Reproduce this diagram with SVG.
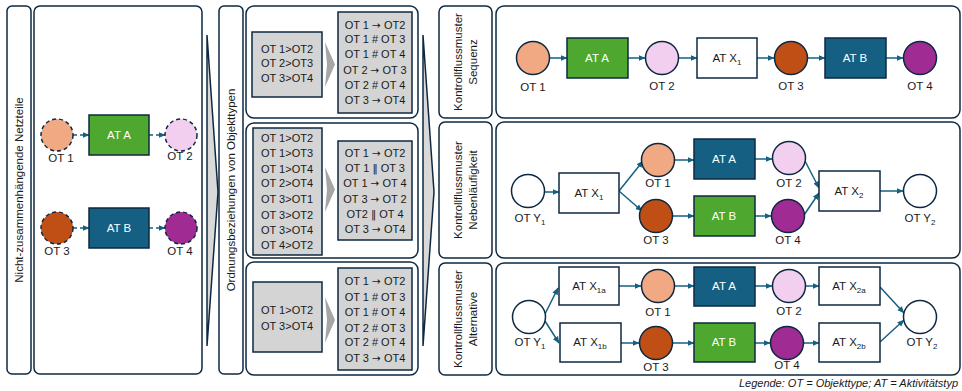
<svg xmlns="http://www.w3.org/2000/svg" width="962" height="391" viewBox="0 0 962 391">
<defs>
<marker id="ah" markerUnits="userSpaceOnUse" markerWidth="7" markerHeight="7" refX="6.5" refY="3.5" orient="auto"><path d="M0,0.5 L7,3.5 L0,6.5 z" fill="#156082"/></marker>
<style>
text{font-family:"Liberation Sans",Arial,sans-serif;font-size:11.5px;fill:#1a1a1a;text-anchor:middle}
.w{fill:#ffffff}
.sm{font-size:11px}
.ar{font-family:"DejaVu Sans",sans-serif;font-size:10.5px}
.panel{fill:#ffffff;stroke:#0e2841;stroke-width:1.5}
.gbox{fill:#d4d4d4;stroke:#0e2841;stroke-width:1.5}
.chev{fill:#a6a6a6}
.big{fill:#d9d9d9;stroke:#0e2841;stroke-width:1.5}
.c{stroke:#0e2841;stroke-width:1.5}
.d{stroke:#0e2841;stroke-width:1.5;stroke-dasharray:4 3}
.r{stroke:#0e2841;stroke-width:1.5}
.o1{fill:#f1a983}.o2{fill:#f2cfee}.o3{fill:#c04f15}.o4{fill:#a02b93}.oy{fill:#ffffff}
.ga{fill:#4ea72e}.bl{fill:#156082}.wh{fill:#ffffff}
.a{stroke:#156082;stroke-width:1.5;fill:none;marker-end:url(#ah)}
.ad{stroke:#156082;stroke-width:1.5;fill:none;stroke-dasharray:4 3;marker-end:url(#ah)}
.sub{font-size:8px}
.leg{font-style:italic;text-anchor:end;font-size:11px}
</style>
</defs>

<!-- frames -->
<g id="frames">
<rect class="panel" x="7" y="6" width="24" height="368" rx="5"/>
<rect class="panel" x="34" y="6" width="168" height="368" rx="6"/>
<polygon class="big" points="207,35 218,192 207,346"/>
<rect class="panel" x="219" y="6" width="24" height="368" rx="5"/>
<rect class="panel" x="246" y="6" width="172" height="112" rx="8"/>
<rect class="panel" x="246" y="123" width="172" height="135" rx="8"/>
<rect class="panel" x="246" y="262" width="172" height="113" rx="8"/>
<polygon class="big" points="423,35 434,192 423,346"/>
<rect class="panel" x="439" y="6" width="53" height="112" rx="6"/>
<rect class="panel" x="496" y="6" width="464" height="112" rx="8"/>
<rect class="panel" x="439" y="122" width="53" height="136" rx="6"/>
<rect class="panel" x="496" y="122" width="464" height="136" rx="8"/>
<rect class="panel" x="439" y="263" width="53" height="112" rx="6"/>
<rect class="panel" x="496" y="263" width="464" height="112" rx="8"/>
<text transform="translate(23,190) rotate(-90)">Nicht-zusammenhängende Netzteile</text>
<text transform="translate(235,190) rotate(-90)">Ordnungsbeziehungen von Objekttypen</text>
<text transform="translate(462,62) rotate(-90)">Kontrollflussmuster</text>
<text transform="translate(477,62) rotate(-90)">Sequenz</text>
<text transform="translate(462,190) rotate(-90)">Kontrollflussmuster</text>
<text transform="translate(477,190) rotate(-90)">Nebenläufigkeit</text>
<text transform="translate(462,319) rotate(-90)">Kontrollflussmuster</text>
<text transform="translate(477,319) rotate(-90)">Alternative</text>
</g>

<!-- connectors -->
<g id="connectors">
<line class="ad" x1="73" y1="135" x2="89" y2="135"/>
<line class="ad" x1="149" y1="135" x2="165" y2="135"/>
<line class="ad" x1="73" y1="228" x2="89" y2="228"/>
<line class="ad" x1="149" y1="228" x2="165" y2="228"/>

<line class="a" x1="550" y1="58" x2="567" y2="58"/>
<line class="a" x1="628" y1="58" x2="645" y2="58"/>
<line class="a" x1="679" y1="58" x2="697" y2="58"/>
<line class="a" x1="757" y1="58" x2="774" y2="58"/>
<line class="a" x1="808" y1="58" x2="825" y2="58"/>
<line class="a" x1="886" y1="58" x2="903" y2="58"/>

<line class="a" x1="545" y1="192" x2="559" y2="192"/>
<line class="a" x1="619" y1="191" x2="643" y2="161"/>
<line class="a" x1="619" y1="191" x2="642" y2="211"/>
<line class="a" x1="675" y1="160" x2="694" y2="160"/>
<line class="a" x1="673" y1="216" x2="694" y2="216"/>
<line class="a" x1="755" y1="159" x2="772" y2="159"/>
<line class="a" x1="755" y1="216" x2="771" y2="216"/>
<line class="a" x1="805" y1="161" x2="819" y2="188"/>
<line class="a" x1="804" y1="215" x2="819" y2="193"/>
<line class="a" x1="880" y1="191" x2="903" y2="191"/>

<line class="a" x1="545" y1="314" x2="558" y2="288"/>
<line class="a" x1="545" y1="321" x2="559" y2="343"/>
<line class="a" x1="619" y1="286" x2="641" y2="286"/>
<line class="a" x1="621" y1="343" x2="639" y2="343"/>
<line class="a" x1="675" y1="286" x2="694" y2="286"/>
<line class="a" x1="673" y1="343" x2="694" y2="343"/>
<line class="a" x1="755" y1="286" x2="772" y2="286"/>
<line class="a" x1="755" y1="343" x2="770" y2="343"/>
<line class="a" x1="806" y1="286" x2="819" y2="286"/>
<line class="a" x1="804" y1="343" x2="819" y2="343"/>
<line class="a" x1="880" y1="287" x2="904" y2="313"/>
<line class="a" x1="880" y1="342" x2="904" y2="320"/>
</g>

<!-- left panel nodes -->
<g id="L-OT1"><circle class="d o1" cx="57" cy="135" r="16"/><text x="61" y="162">OT 1</text></g>
<g id="L-ATA"><rect class="r ga" x="89" y="115" width="60" height="40"/><text class="w" x="119" y="139">AT A</text></g>
<g id="L-OT2"><circle class="d o2" cx="181" cy="135" r="16"/><text x="180" y="160">OT 2</text></g>
<g id="L-OT3"><circle class="d o3" cx="57" cy="228" r="16"/><text x="57" y="255">OT 3</text></g>
<g id="L-ATB"><rect class="r bl" x="89" y="208" width="60" height="40"/><text class="w" x="119" y="232">AT B</text></g>
<g id="L-OT4"><circle class="d o4" cx="181" cy="228" r="16"/><text x="180" y="255">OT 4</text></g>

<!-- middle: order relations -->
<g id="M1-in"><rect class="gbox" x="252" y="32" width="70" height="65"/>
<text class="sm" x="287" y="53">OT 1&gt;OT2</text><text class="sm" x="287" y="67">OT 2&gt;OT3</text><text class="sm" x="287" y="82">OT 3&gt;OT4</text></g>
<g id="M1-chev"><polygon class="chev" points="325,42 335,64.5 325,87 327,64.5"/></g>
<g id="M1-out"><rect class="gbox" x="338" y="12" width="74" height="101"/>
<text class="sm" x="375" y="29">OT 1 <tspan class="ar">→</tspan> OT2</text><text class="sm" x="375" y="43">OT 1 # OT 3</text><text class="sm" x="375" y="58">OT 1 # OT 4</text><text class="sm" x="375" y="74">OT 2 <tspan class="ar">→</tspan> OT 3</text><text class="sm" x="375" y="89">OT 2 # OT 4</text><text class="sm" x="375" y="104">OT 3 <tspan class="ar">→</tspan> OT4</text></g>

<g id="M2-in"><rect class="gbox" x="253" y="128" width="69" height="127"/>
<text class="sm" x="287" y="142">OT 1&gt;OT2</text><text class="sm" x="287" y="157">OT 1&gt;OT3</text><text class="sm" x="287" y="173">OT 1&gt;OT4</text><text class="sm" x="287" y="187">OT 2&gt;OT4</text><text class="sm" x="287" y="203">OT 3&gt;OT1</text><text class="sm" x="287" y="219">OT 3&gt;OT2</text><text class="sm" x="287" y="234">OT 3&gt;OT4</text><text class="sm" x="287" y="249">OT 4&gt;OT2</text></g>
<g id="M2-chev"><polygon class="chev" points="325,167 335,189.5 325,212 327,189.5"/></g>
<g id="M2-out"><rect class="gbox" x="338" y="141" width="74" height="99"/>
<text class="sm" x="375" y="157">OT 1 <tspan class="ar">→</tspan> OT2</text><text class="sm" x="375" y="172">OT 1 <tspan class="ar">‖</tspan> OT 3</text><text class="sm" x="375" y="187">OT 1 <tspan class="ar">→</tspan> OT 4</text><text class="sm" x="375" y="203">OT 3 <tspan class="ar">→</tspan> OT 2</text><text class="sm" x="375" y="218">OT2 <tspan class="ar">‖</tspan> OT 4</text><text class="sm" x="375" y="233">OT 3 <tspan class="ar">→</tspan> OT4</text></g>

<g id="M3-in"><rect class="gbox" x="253" y="282" width="69" height="70"/>
<text class="sm" x="287" y="314">OT 1&gt;OT2</text><text class="sm" x="287" y="330">OT 3&gt;OT4</text></g>
<g id="M3-chev"><polygon class="chev" points="325,297 335,320 325,343 327,320"/></g>
<g id="M3-out"><rect class="gbox" x="338" y="268" width="74" height="102"/>
<text class="sm" x="375" y="285">OT 1 <tspan class="ar">→</tspan> OT2</text><text class="sm" x="375" y="301">OT 1 # OT 3</text><text class="sm" x="375" y="316">OT 1 # OT 4</text><text class="sm" x="375" y="332">OT 2 # OT 3</text><text class="sm" x="375" y="346">OT 2 # OT 4</text><text class="sm" x="375" y="362">OT 3 <tspan class="ar">→</tspan> OT4</text></g>

<!-- right: sequence -->
<g id="S-OT1"><circle class="c o1" cx="533" cy="58" r="16.5"/><text x="533" y="91">OT 1</text></g>
<g id="S-ATA"><rect class="r ga" x="567" y="38" width="61" height="40"/><text class="w" x="597" y="62">AT A</text></g>
<g id="S-OT2"><circle class="c o2" cx="662" cy="58" r="16.5"/><text x="662" y="90">OT 2</text></g>
<g id="S-ATX1"><rect class="r wh" x="697" y="38" width="60" height="40"/><text x="727" y="62">AT X<tspan class="sub" dy="3">1</tspan></text></g>
<g id="S-OT3"><circle class="c o3" cx="791" cy="58" r="16.5"/><text x="791" y="90">OT 3</text></g>
<g id="S-ATB"><rect class="r bl" x="825" y="38" width="61" height="40"/><text class="w" x="855" y="62">AT B</text></g>
<g id="S-OT4"><circle class="c o4" cx="920" cy="58" r="16.5"/><text x="920" y="90">OT 4</text></g>

<!-- right: concurrency -->
<g id="N-OTY1"><circle class="c oy" cx="528" cy="191" r="16.5"/><text x="530" y="222">OT Y<tspan class="sub" dy="3">1</tspan></text></g>
<g id="N-ATX1"><rect class="r wh" x="559" y="173" width="60" height="40"/><text x="589" y="197">AT X<tspan class="sub" dy="3">1</tspan></text></g>
<g id="N-OT1"><circle class="c o1" cx="658" cy="160" r="16.5"/><text x="658" y="187">OT 1</text></g>
<g id="N-OT3"><circle class="c o3" cx="656" cy="216" r="16.5"/><text x="656" y="244">OT 3</text></g>
<g id="N-ATA"><rect class="r bl" x="694" y="139" width="61" height="40"/><text class="w" x="724" y="163">AT A</text></g>
<g id="N-ATB"><rect class="r ga" x="694" y="196" width="61" height="40"/><text class="w" x="724" y="220">AT B</text></g>
<g id="N-OT2"><circle class="c o2" cx="789" cy="158" r="16.5"/><text x="789" y="187">OT 2</text></g>
<g id="N-OT4"><circle class="c o4" cx="788" cy="216" r="16.5"/><text x="788" y="244">OT 4</text></g>
<g id="N-ATX2"><rect class="r wh" x="819" y="171" width="61" height="40"/><text x="849" y="195">AT X<tspan class="sub" dy="3">2</tspan></text></g>
<g id="N-OTY2"><circle class="c oy" cx="920" cy="191" r="16.5"/><text x="920" y="222">OT Y<tspan class="sub" dy="3">2</tspan></text></g>

<!-- right: alternative -->
<g id="A-OTY1"><circle class="c oy" cx="529" cy="317" r="16.5"/><text x="530" y="346">OT Y<tspan class="sub" dy="3">1</tspan></text></g>
<g id="A-ATX1a"><rect class="r wh" x="559" y="267" width="60" height="38"/><text x="589" y="290">AT X<tspan class="sub" dy="3">1a</tspan></text></g>
<g id="A-ATX1b"><rect class="r wh" x="560" y="323" width="61" height="39"/><text x="590" y="346">AT X<tspan class="sub" dy="3">1b</tspan></text></g>
<g id="A-OT1"><circle class="c o1" cx="658" cy="286" r="16.5"/><text x="658" y="316">OT 1</text></g>
<g id="A-OT3"><circle class="c o3" cx="656" cy="343" r="16.5"/><text x="656" y="371">OT 3</text></g>
<g id="A-ATA"><rect class="r bl" x="694" y="267" width="61" height="39"/><text class="w" x="724" y="290">AT A</text></g>
<g id="A-ATB"><rect class="r ga" x="694" y="323" width="61" height="39"/><text class="w" x="724" y="346">AT B</text></g>
<g id="A-OT2"><circle class="c o2" cx="789" cy="286" r="16.5"/><text x="789" y="315">OT 2</text></g>
<g id="A-OT4"><circle class="c o4" cx="787" cy="343" r="16.5"/><text x="787" y="369">OT 4</text></g>
<g id="A-ATX2a"><rect class="r wh" x="819" y="267" width="61" height="38"/><text x="849" y="290">AT X<tspan class="sub" dy="3">2a</tspan></text></g>
<g id="A-ATX2b"><rect class="r wh" x="819" y="323" width="61" height="39"/><text x="849" y="346">AT X<tspan class="sub" dy="3">2b</tspan></text></g>
<g id="A-OTY2"><circle class="c oy" cx="920" cy="317" r="16.5"/><text x="922" y="346">OT Y<tspan class="sub" dy="3">2</tspan></text></g>

<g id="legend"><text class="leg" x="958" y="387">Legende: OT = Objekttype; AT = Aktivitätstyp</text></g>
</svg>
